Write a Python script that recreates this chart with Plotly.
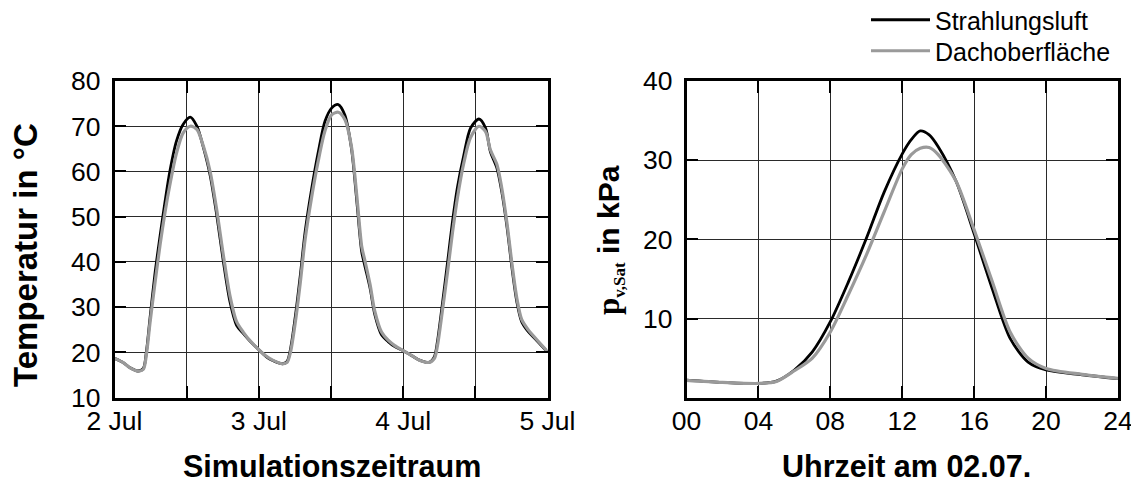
import plotly.graph_objects as go

# ---------------- data ----------------
# Left panel: hours since 2 Jul 00:00
temp_hours = [0, 1.4, 2.6, 3.9, 4.8, 5.3, 5.9, 6.7, 7.6, 8.4, 9.2, 10.3, 11.4, 12.6, 13.7, 14.8,
              15.9, 17.0, 18.1, 19.2, 20.3, 21.4, 22.6,
              24.0, 25.2, 26.3, 27.9, 28.7, 29.3, 30.1, 30.9, 31.7, 32.8, 33.9, 35.0, 36.1, 37.2,
              38.3, 39.4, 40.3, 41.1, 41.6, 42.5, 43.3, 44.4, 45.5, 46.6,
              48.0, 49.3, 50.7, 52.3, 53.2, 53.7, 54.5, 55.4, 56.2, 57.0, 58.1, 59.2, 60.6, 61.7,
              62.5, 63.6, 64.4, 65.3, 66.1, 66.9, 67.7, 68.8, 69.9, 72.0]
temp_strahlungsluft = [18.7, 17.8, 16.6, 15.9, 16.5, 20.1, 27.5, 37.1, 46.0, 53.3, 60.0, 66.7, 70.4, 72.0, 70.0, 65.2,
                       59.2, 50.4, 40.1, 31.2, 26.0, 24.2, 22.4,
                       20.6, 19.1, 18.2, 17.5, 18.0, 21.0, 28.3, 37.1, 46.7, 56.3, 64.4, 71.1, 74.0, 74.8,
                       72.5, 65.1, 53.3, 42.3, 39.3, 34.2, 28.3, 23.9, 22.4, 21.3,
                       20.4, 19.4, 18.3, 17.8, 19.1, 22.4, 30.5, 40.1, 48.9, 56.3, 63.7, 69.6, 71.6, 69.6,
                       64.4, 60.7, 55.5, 47.4, 38.6, 31.2, 26.8, 24.6, 23.1, 20.1]
temp_dachoberflaeche = [18.7, 17.8, 16.6, 15.9, 16.3, 19.5, 26.5, 35.0, 44.0, 51.0, 57.0, 64.0, 68.5, 70.0, 69.3, 65.5,
                        60.0, 51.5, 41.5, 32.5, 26.8, 24.5, 22.5,
                        20.6, 19.2, 18.3, 17.5, 17.8, 20.3, 27.0, 35.5, 45.0, 54.5, 62.5, 69.0, 72.5, 73.1,
                        71.5, 65.5, 54.5, 43.5, 40.5, 35.0, 29.0, 24.5, 22.7, 21.5,
                        20.4, 19.4, 18.3, 17.8, 18.7, 21.5, 29.0, 38.0, 46.5, 54.0, 62.0, 67.5, 70.0, 68.8,
                        64.8, 61.5, 56.3, 48.2, 39.5, 32.0, 27.3, 25.0, 23.3, 20.2]
day_tickvals = [0, 24, 48, 72]
day_ticktext = ["2 Jul", "3 Jul", "4 Jul", "5 Jul"]

# Right panel: hour of day on 02.07.
pv_hours = [0, 2, 4, 5, 6, 7, 8, 9, 10, 11, 12, 12.5, 13, 13.5, 14, 15, 16, 17, 18, 19, 20, 22, 24]
pv_strahlungsluft = [2.23, 1.94, 1.8, 2.1, 3.5, 5.8, 9.6, 14.6, 20.1, 26.0, 30.8, 32.6, 33.7, 33.2, 31.7,
                     27.3, 20.7, 13.8, 7.5, 4.5, 3.5, 2.9, 2.4]
pv_dachoberflaeche = [2.2, 1.94, 1.8, 2.05, 3.4, 5.0, 8.3, 13.0, 18.0, 23.5, 28.9, 30.7, 31.5, 31.6, 30.7,
                      27.3, 21.2, 14.7, 8.3, 5.0, 3.7, 2.95, 2.45]
hour_tickvals = [0, 4, 8, 12, 16, 20, 24]
hour_ticktext = ["00", "04", "08", "12", "16", "20", "24"]
pv_tickvals = [10, 20, 30, 40]

# ---------------- figure ----------------
PAGE_W, PAGE_H = 1139, 481
OFF = 8  # default body margin of the html page
W, H = PAGE_W - OFF, PAGE_H - OFF
FONT = "Liberation Sans, Arial, sans-serif"
SERIF = "Liberation Serif, Times New Roman, serif"
BLACK = "#000000"
GRAY = "#9a9a9a"
GRID = "#2a2a2a"


def px_x(p):
    return (p - OFF) / W


def px_y(p):
    return (H - (p - OFF)) / H


fig = go.Figure()
fig.add_trace(go.Scatter(x=temp_hours, y=temp_strahlungsluft, xaxis="x", yaxis="y", mode="lines",
                         line=dict(color=BLACK, width=2.8, shape="spline", smoothing=0.8),
                         name="Strahlungsluft", showlegend=False))
fig.add_trace(go.Scatter(x=temp_hours, y=temp_dachoberflaeche, xaxis="x", yaxis="y", mode="lines",
                         line=dict(color=GRAY, width=3.2, shape="spline", smoothing=0.8),
                         name="Dachoberfläche", showlegend=False))
fig.add_trace(go.Scatter(x=pv_hours, y=pv_strahlungsluft, xaxis="x2", yaxis="y2", mode="lines",
                         line=dict(color=BLACK, width=2.8, shape="spline", smoothing=0.8),
                         name="Strahlungsluft", legend="legend"))
fig.add_trace(go.Scatter(x=pv_hours, y=pv_dachoberflaeche, xaxis="x2", yaxis="y2", mode="lines",
                         line=dict(color=GRAY, width=3.2, shape="spline", smoothing=0.8),
                         name="Dachoberfläche", legend="legend2"))

tick_style = dict(ticks="inside", ticklen=12, tickwidth=2, tickcolor=BLACK)
common = dict(showgrid=True, gridcolor=GRID, gridwidth=1, zeroline=False,
              showline=True, linecolor=BLACK, linewidth=2.5, mirror="allticks",
              tickfont=dict(family=FONT, size=26.5, color=BLACK), **tick_style)

ydom = [px_y(397.7), px_y(81)]
legend_common = dict(xanchor="left", yanchor="middle",
                     font=dict(family=FONT, size=25, color=BLACK), itemwidth=59,
                     bgcolor="rgba(0,0,0,0)", borderwidth=0)
fig.update_layout(
    width=W, height=H,
    margin=dict(l=0, r=0, t=0, b=0, autoexpand=False),
    paper_bgcolor="white", plot_bgcolor="white",
    font=dict(family=FONT, color=BLACK),
    xaxis=dict(domain=[px_x(114.5), px_x(547.5)], range=[0, 72], tickmode="array",
               tickvals=day_tickvals, ticktext=day_ticktext, ticklabelstandoff=-2,
               minor=dict(tickmode="linear", tick0=0, dtick=12, showgrid=True, gridcolor=GRID,
                          gridwidth=1, **tick_style),
               **common),
    yaxis=dict(domain=ydom, range=[10, 80], dtick=10, tick0=10, ticklabelstandoff=6, **common),
    xaxis2=dict(domain=[px_x(686.5), px_x(1118)], range=[0, 24], tickmode="array",
                tickvals=hour_tickvals, ticktext=hour_ticktext, anchor="y2", ticklabelstandoff=-2, **common),
    yaxis2=dict(domain=ydom, range=[0, 40], tickmode="array", tickvals=pv_tickvals,
                anchor="x2", ticklabelstandoff=6, **common),
    showlegend=True,
    legend=dict(x=px_x(866), y=px_y(20), **legend_common),
    legend2=dict(x=px_x(866), y=px_y(51), **legend_common),
)

bold = dict(family=FONT, size=30.5, color=BLACK, weight="bold")
fig.add_annotation(text="Temperatur in °C", x=px_x(26), y=px_y(255), xref="paper", yref="paper",
                   textangle=-90, showarrow=False, xanchor="center", yanchor="middle",
                   font=dict(family=FONT, size=33, color=BLACK, weight="bold"))
fig.add_annotation(text="Simulationszeitraum", x=px_x(332), y=px_y(466), xref="paper", yref="paper",
                   showarrow=False, xanchor="center", yanchor="middle", font=bold)
fig.add_annotation(text="Uhrzeit am 02.07.", x=px_x(906), y=px_y(466), xref="paper", yref="paper",
                   showarrow=False, xanchor="center", yanchor="middle", font=bold)
fig.add_annotation(
    text=f"<span style='font-family:{SERIF};font-size:31px'>p</span>"
         f"<sub><span style='font-family:{SERIF};font-size:17px'>v,Sat</span></sub>"
         " in kPa",
    x=px_x(610), y=px_y(240), xref="paper", yref="paper",
    textangle=-90, showarrow=False, xanchor="center", yanchor="middle",
    font=dict(family=FONT, size=30, color=BLACK, weight="bold"))

fig.write_html("out.html")
